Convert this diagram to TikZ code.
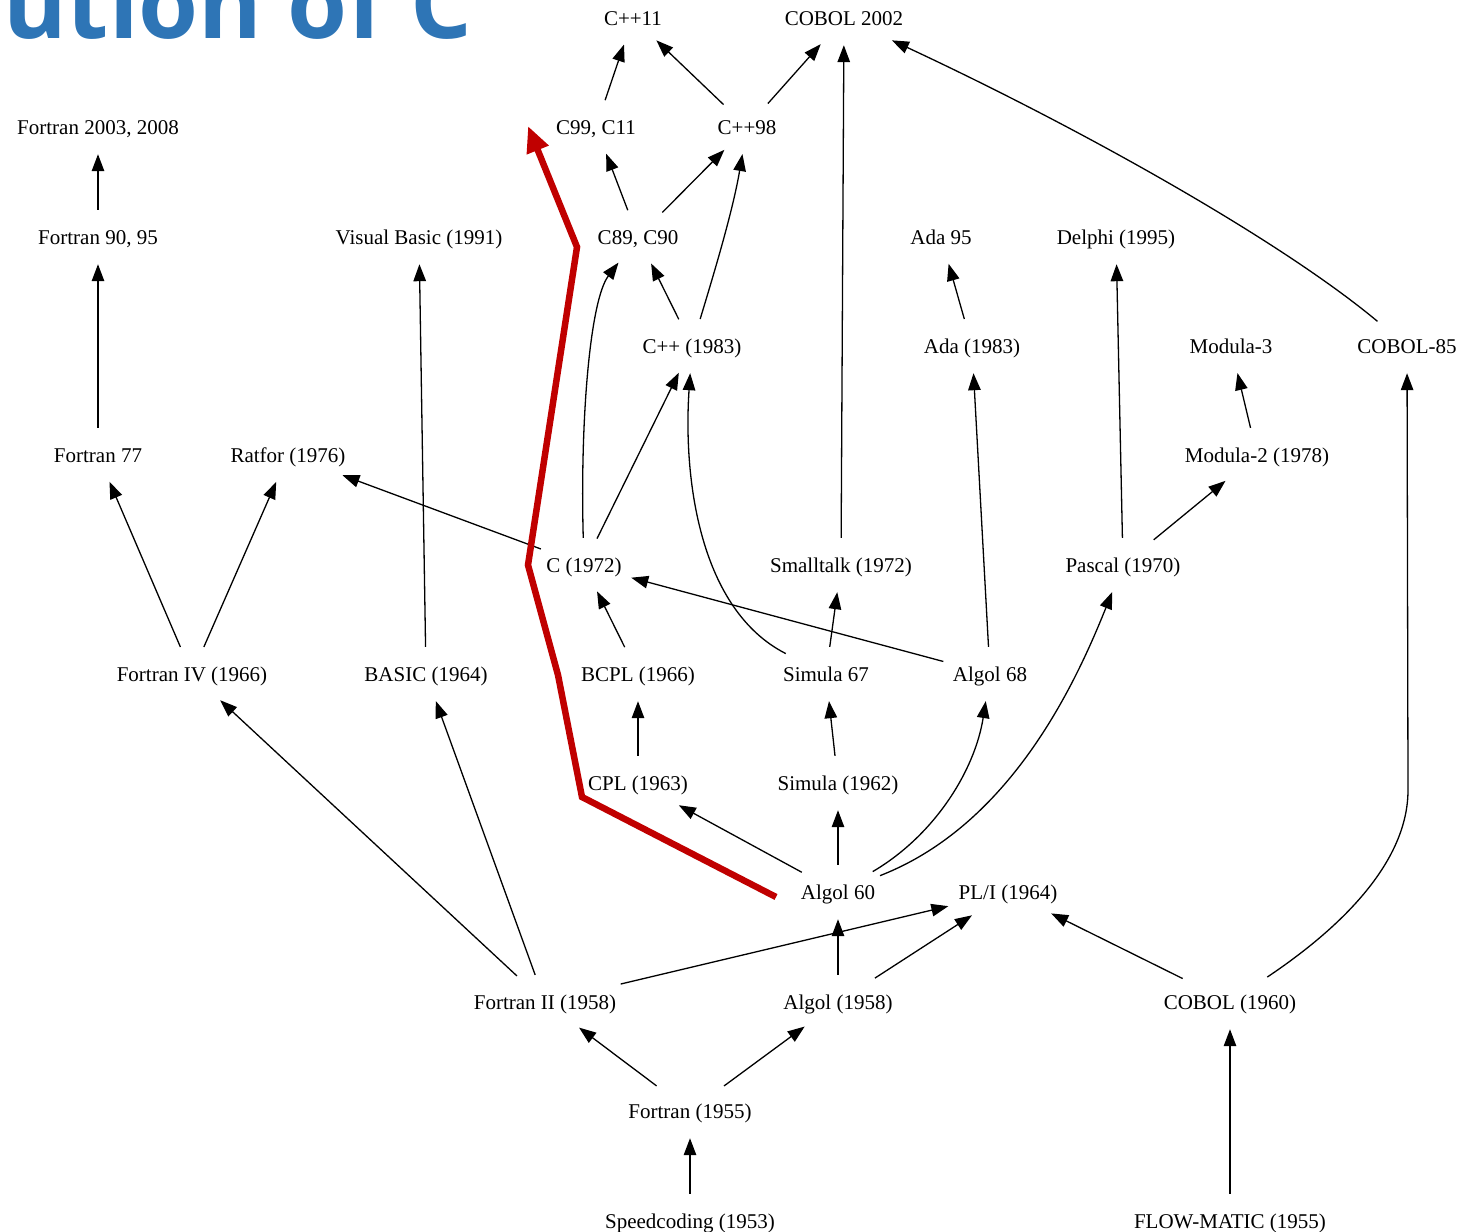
\documentclass[tikz,border=0pt]{standalone}
\usepackage{fontspec}
\setmainfont{Liberation Serif}
\newfontfamily\titlefont{Open Sans}
\usetikzlibrary{arrows.meta,shapes.geometric}
\definecolor{titleblue}{HTML}{2E75B6}
\definecolor{pathred}{HTML}{C00000}

\begin{document}
\begin{tikzpicture}[x=1pt,y=-1pt,
  lang/.style={ellipse, inner sep=0pt, minimum height=54pt,
    text height=16pt, text depth=2pt, font=\fontsize{21}{25}\selectfont},
  edge/.style={line width=1.3pt, -{Triangle[length=17pt,width=12.5pt]}},
  hist/.style={line width=6.5pt, pathred, line join=miter,
    -{Triangle[length=26pt,width=22pt]}},
  ]
\useasboundingbox (0,0) rectangle (1460,1232);
\clip (0,0) rectangle (1460,1232);

% title (partly outside the frame)
\node[anchor=base west, inner sep=0pt, text=titleblue,
  font=\titlefont\bfseries\fontsize{97}{110}\selectfont] (title) at (3,38) {ution of C};

% languages, one row per generation
\node[lang] (cpp11)     at (633,18)   {C++11};
\node[lang] (cobol02)   at (844,18)   {COBOL 2002};

\node[lang] (f2003)     at (98,127)   {Fortran 2003, 2008};
\node[lang] (c99)       at (596,127)  {C99, C11};
\node[lang] (cpp98)     at (747,127)  {C++98};

\node[lang] (f90)       at (98,237)   {Fortran 90, 95};
\node[lang] (vb)        at (419,237)  {Visual Basic (1991)};
\node[lang] (c89)       at (638,237)  {C89, C90};
\node[lang] (ada95)     at (941,237)  {Ada 95};
\node[lang] (delphi)    at (1116,237) {Delphi (1995)};

\node[lang] (cpp)       at (692,346)  {C++ (1983)};
\node[lang] (ada83)     at (972,346)  {Ada (1983)};
\node[lang] (modula3)   at (1231,346) {Modula-3};
\node[lang] (cobol85)   at (1407,346) {COBOL-85};

\node[lang] (f77)       at (98,455)   {Fortran 77};
\node[lang] (ratfor)    at (288,455)  {Ratfor (1976)};
\node[lang] (modula2)   at (1257,455) {Modula-2 (1978)};

\node[lang] (c72)       at (584,565)  {C (1972)};
\node[lang] (smalltalk) at (841,565)  {Smalltalk (1972)};
\node[lang] (pascal)    at (1123,565) {Pascal (1970)};

\node[lang] (f4)        at (192,674)  {Fortran IV (1966)};
\node[lang] (basic)     at (426,674)  {BASIC (1964)};
\node[lang] (bcpl)      at (638,674)  {BCPL (1966)};
\node[lang] (simula67)  at (826,674)  {Simula 67};
\node[lang] (algol68)   at (990,674)  {Algol 68};

\node[lang] (cpl)       at (638,783)  {CPL (1963)};
\node[lang] (simula62)  at (838,783)  {Simula (1962)};

\node[lang] (algol60)   at (838,892)  {Algol 60};
\node[lang] (pli)       at (1008,892) {PL/I (1964)};

\node[lang] (f2)        at (545,1002) {Fortran II (1958)};
\node[lang] (algol58)   at (838,1002) {Algol (1958)};
\node[lang] (cobol60)   at (1230,1002) {COBOL (1960)};

\node[lang] (fortran)   at (690,1111) {Fortran (1955)};

\node[lang] (speed)     at (690,1221) {Speedcoding (1953)};
\node[lang] (flow)      at (1230,1221) {FLOW-MATIC (1955)};

% lines of descent
\draw[edge] (c99) -- (cpp11);
\draw[edge] (cpp98) -- (cpp11);
\draw[edge] (cpp98) -- (cobol02);
\draw[edge] (smalltalk) -- (cobol02);
\draw[edge] (cobol85) .. controls (1280,240) and (1080,128) .. (cobol02);
\draw[edge] (f90) -- (f2003);
\draw[edge] (c89) -- (c99);
\draw[edge] (c89) -- (cpp98);
\draw[edge] (cpp) .. controls (715,270) and (733,210) .. (cpp98);
\draw[edge] (f77) -- (f90);
\draw[edge] (basic) -- (vb);
\draw[edge] (cpp) -- (c89);
\draw[edge] (c72) .. controls (580,420) and (590,300) .. (c89);
\draw[edge] (ada83) -- (ada95);
\draw[edge] (pascal) -- (delphi);
\draw[edge] (c72) -- (cpp);
\draw[edge] (simula67) .. controls (700,610) and (683,480) .. (cpp);
\draw[edge] (algol68) -- (ada83);
\draw[edge] (modula2) -- (modula3);
\draw[edge] (cobol60) .. controls (1345,925) and (1408,860) .. (1408,790) -- (cobol85);
\draw[edge] (f4) -- (f77);
\draw[edge] (f4) -- (ratfor);
\draw[edge] (c72) -- (ratfor);
\draw[edge] (pascal) -- (modula2);
\draw[edge] (bcpl) -- (c72);
\draw[edge] (algol68) -- (c72);
\draw[edge] (simula67) -- (smalltalk);
\draw[edge] (algol60) .. controls (1010,825) and (1075,685) .. (pascal);
\draw[edge] (f2) -- (f4);
\draw[edge] (f2) -- (basic);
\draw[edge] (cpl) -- (bcpl);
\draw[edge] (simula62) -- (simula67);
\draw[edge] (algol60) .. controls (935,835) and (975,770) .. (algol68);
\draw[edge] (algol60) -- (cpl);
\draw[edge] (algol60) -- (simula62);
\draw[edge] (f2) -- (pli);
\draw[edge] (algol58) -- (algol60);
\draw[edge] (algol58) -- (pli);
\draw[edge] (cobol60) -- (pli);
\draw[edge] (fortran) -- (f2);
\draw[edge] (fortran) -- (algol58);
\draw[edge] (speed) -- (fortran);
\draw[edge] (flow) -- (cobol60);

% highlighted route from Algol 60 to C
\coordinate (r0) at (776,897);
\coordinate (r1) at (582,797);
\coordinate (r2) at (558,675);
\coordinate (r3) at (528,565);
\coordinate (r4) at (577,247);
\coordinate (r5) at (528,126);
\draw[hist] (r0) -- (r1) -- (r2) -- (r3) -- (r4) -- (r5);
\end{tikzpicture}
\end{document}
